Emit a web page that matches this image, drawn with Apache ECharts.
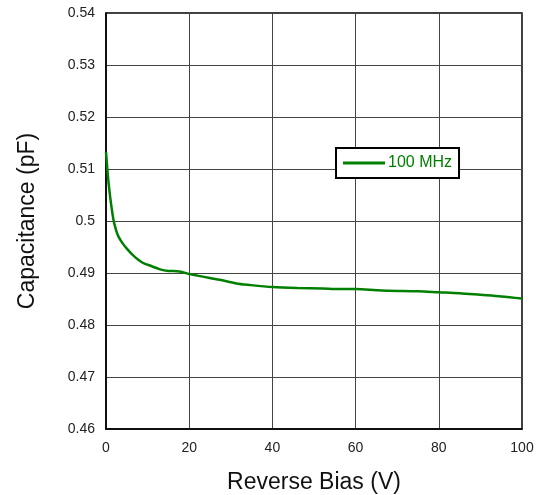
<!DOCTYPE html>
<html>
<head>
<meta charset="utf-8">
<script src="https://cdn.jsdelivr.net/npm/echarts@6/dist/echarts.min.js"></script>
<style>html,body{margin:0;padding:0;background:#fff}#c{width:539px;height:495px}</style>
</head>
<body>
<div id="c"></div>
<script>
var seriesName = '100 MHz';
var biasV = [0, 0.4, 0.8, 1.2, 1.8, 2.4, 3, 4, 5, 6.4, 8, 9, 11, 13, 15, 17.7, 20, 23.3, 27.3, 31.3, 34.5, 40, 46, 52, 56, 60, 65, 68, 75, 80, 85, 90, 95, 100];
var capPF = [0.5133, 0.5092, 0.5060, 0.5034, 0.5002, 0.4983, 0.4970, 0.4957, 0.4947, 0.4935, 0.4924, 0.4919, 0.4913, 0.4907, 0.4904, 0.4903, 0.4898, 0.4893, 0.4887, 0.4880, 0.4877, 0.4873, 0.4871, 0.4870, 0.4869, 0.4869, 0.4867, 0.4866, 0.4865, 0.4863, 0.4861, 0.4858, 0.4855, 0.4851];
var xTicks = {min: 0, max: 100, interval: 20};
var yTicks = {min: 0.46, max: 0.54, interval: 0.01};

var chart = echarts.init(document.getElementById('c'));
var pts = biasV.map(function (v, i) { return [v, capPF[i]]; });
var font = 'Liberation Sans, Arial, sans-serif';
chart.setOption({
  animation: false,
  grid: {left: 106, right: 17, top: 13, bottom: 66, show: true, borderColor: '#000', borderWidth: 1.5, containLabel: false, outerBoundsMode: 'none'},
  legend: {
    show: true,
    data: [{name: seriesName, icon: 'rect'}],
    left: 336, top: 148,
    itemWidth: 42, itemHeight: 3,
    itemGap: 4,
    padding: [7, 7, 7, 7],
    borderColor: '#000', borderWidth: 2, borderRadius: 0,
    backgroundColor: '#fff',
    textStyle: {color: '#008000', fontSize: 16, fontFamily: font, padding: [0, 0, 0, -2]}
  },
  xAxis: {
    type: 'value', min: xTicks.min, max: xTicks.max, interval: xTicks.interval,
    name: 'Reverse Bias (V)', nameLocation: 'middle', nameGap: 42,
    nameTextStyle: {fontSize: 23, color: '#111', fontFamily: font},
    axisLine: {show: true, lineStyle: {color: '#000', width: 1.5}},
    axisTick: {show: false},
    axisLabel: {fontSize: 14, color: '#222', fontFamily: font, margin: 12},
    splitLine: {show: true, lineStyle: {color: '#444', width: 1}}
  },
  yAxis: {
    type: 'value', min: yTicks.min, max: yTicks.max, interval: yTicks.interval,
    name: 'Capacitance (pF)', nameLocation: 'middle', nameGap: 67,
    nameTextStyle: {fontSize: 23, color: '#111', fontFamily: font},
    axisLine: {show: true, lineStyle: {color: '#000', width: 1.5}},
    axisTick: {show: false},
    axisLabel: {fontSize: 14, color: '#222', fontFamily: font, margin: 11},
    splitLine: {show: true, lineStyle: {color: '#444', width: 1}}
  },
  series: [{
    name: seriesName, type: 'line', data: pts, showSymbol: false, symbol: 'none',
    smooth: 0.3,
    lineStyle: {color: '#008000', width: 2.5},
    itemStyle: {color: '#008000'}
  }]
});
</script>
</body>
</html>
